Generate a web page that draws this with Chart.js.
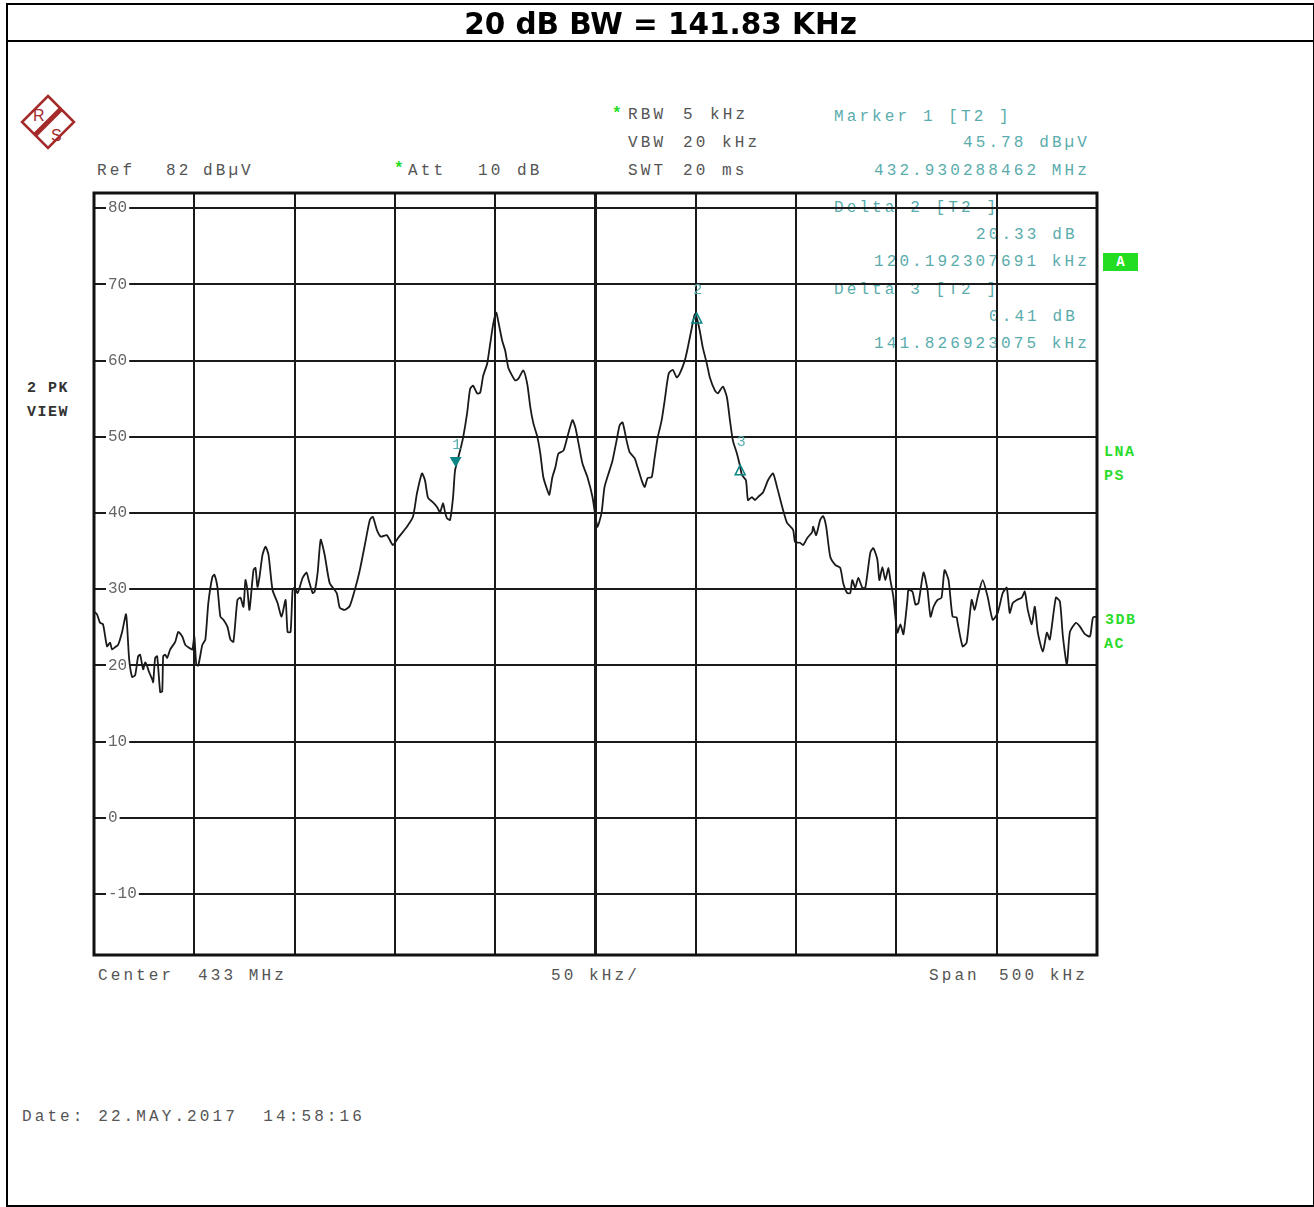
<!DOCTYPE html>
<html>
<head>
<meta charset="utf-8">
<script src="https://cdn.jsdelivr.net/npm/chart.js@4.4.0/dist/chart.umd.min.js"></script>
<style>
  body { margin: 0; background: #fff; width: 1314px; height: 1207px; position: relative; overflow: hidden; }
  #chart { position: absolute; left: 0; top: 0; z-index: 2; }
  .frame { position: absolute; left: 6px; top: 3px; width: 1305px; height: 1200px; border: 2px solid #000; z-index: 3; pointer-events: none; }
  .title { position: absolute; left: 6px; top: 3px; width: 1309px; height: 37px; border-bottom: 2px solid #000; z-index: 3;
           text-align: center; font: bold 29.5px "DejaVu Sans", Verdana, sans-serif; line-height: 43px; color: #000; }
  .t { position: absolute; z-index: 1; font-family: "Liberation Mono", monospace; font-size: 16px; letter-spacing: 3.1px;
       line-height: 16px; color: #555; white-space: pre; }
  .mk { color: #5aacac; }
  .star { color: #22dd22; font-weight: bold; }
  .g { position: absolute; z-index: 1; font: bold 15px "Liberation Mono", monospace; letter-spacing: 1.5px; color: #2bdc2b; line-height: 16px; }
  .b { position: absolute; z-index: 1; font: bold 15px "Liberation Mono", monospace; letter-spacing: 1.5px; color: #333; line-height: 16px; }
  .abox { position: absolute; left: 1103px; top: 253px; width: 35px; height: 18px; background: #22dd22; color: #fff; z-index: 1;
          font: bold 14px "Liberation Mono", monospace; text-align: center; line-height: 18px; }
  .logo { position: absolute; left: 20px; top: 94px; z-index: 1; }
</style>
</head>
<body>
<div class="title">20 dB BW = 141.83 KHz</div>
<div class="frame"></div>

<svg class="logo" width="56" height="56" viewBox="0 0 56 56">
  <polygon points="28,2 54,28 28,54 2,28" fill="none" stroke="#a52a2a" stroke-width="2.5"/>
  <line x1="41" y1="15" x2="15" y2="41" stroke="#a52a2a" stroke-width="5"/>
  <text x="13" y="27" font-family="Liberation Sans, Arial" font-size="16" fill="#a52a2a">R</text>
  <text x="31" y="47" font-family="Liberation Sans, Arial" font-size="16" fill="#a52a2a">S</text>
</svg>

<div class="t" style="left:97px;top:163px">Ref</div>
<div class="t" style="left:166px;top:163px">82</div>
<div class="t" style="left:203px;top:163px">dBµV</div>
<div class="t star" style="left:394px;top:161px">*</div>
<div class="t" style="left:408px;top:163px">Att</div>
<div class="t" style="left:478px;top:163px">10</div>
<div class="t" style="left:517px;top:163px">dB</div>

<div class="t star" style="left:612px;top:106px">*</div>
<div class="t" style="left:628px;top:107px">RBW</div>
<div class="t" style="left:683px;top:107px">5</div>
<div class="t" style="left:710px;top:107px">kHz</div>
<div class="t" style="left:628px;top:135px">VBW</div>
<div class="t" style="left:683px;top:135px">20</div>
<div class="t" style="left:722px;top:135px">kHz</div>
<div class="t" style="left:628px;top:163px">SWT</div>
<div class="t" style="left:683px;top:163px">20</div>
<div class="t" style="left:722px;top:163px">ms</div>

<div class="t mk" style="left:834px;top:109px">Marker 1 [T2 ]</div>
<div class="t mk" style="left:963px;top:135px">45.78 dBµV</div>
<div class="t mk" style="left:874px;top:163px">432.930288462 MHz</div>
<div class="t mk" style="left:834px;top:200px">Delta 2 [T2 ]</div>
<div class="t mk" style="left:976px;top:227px">20.33 dB</div>
<div class="t mk" style="left:874px;top:254px">120.192307691 kHz</div>
<div class="t mk" style="left:834px;top:282px">Delta 3 [T2 ]</div>
<div class="t mk" style="left:989px;top:309px">0.41 dB</div>
<div class="t mk" style="left:874px;top:336px">141.826923075 kHz</div>

<div class="abox">A</div>
<div class="g" style="left:1104px;top:445px">LNA</div>
<div class="g" style="left:1104px;top:469px">PS</div>
<div class="g" style="left:1105px;top:613px">3DB</div>
<div class="g" style="left:1104px;top:637px">AC</div>

<div class="b" style="left:27px;top:381px">2 PK</div>
<div class="b" style="left:27px;top:405px">VIEW</div>

<div class="t" style="left:98px;top:968px">Center</div>
<div class="t" style="left:198px;top:968px">433 MHz</div>
<div class="t" style="left:551px;top:968px">50 kHz/</div>
<div class="t" style="left:929px;top:968px">Span</div>
<div class="t" style="left:999px;top:968px">500 kHz</div>

<div class="t" style="left:22px;top:1109px">Date: 22.MAY.2017  14:58:16</div>

<canvas id="chart" width="1314" height="1207"></canvas>

<script>
// trace 2, frequency offset from 433 MHz centre (kHz) and level (dBµV)
const freqOffsetKHz = [
    -250, -248.5, -247, -245.5, -243.5, -242, -241, -239.5, -238, -236,
    -234, -232.5, -231, -229.5, -228, -227, -225.5, -224.5, -223.5, -222.5,
    -221, -220.5, -219.5, -218.5, -217, -216, -215.5, -214.5, -213.5, -212,
    -209.5, -208, -206, -204.5, -203, -201, -200, -199, -198, -196,
    -194.5, -193, -191, -190, -188.5, -187, -185.5, -183.5, -182, -180.5,
    -178.5, -177, -175.5, -174.5, -173.5, -172.5, -170.5, -169.5, -168.5, -167.5,
    -166, -164.5, -163, -161, -158.5, -156.5, -154.5, -153.5, -152, -151,
    -150, -148.5, -146, -144, -143, -141, -140, -138.5, -137, -135,
    -132.5, -129, -127.5, -125, -122.5, -120, -117.5, -115, -112.5, -111,
    -109, -107, -104, -101, -98.5, -94, -91, -89, -86.5, -85,
    -83.5, -81, -79, -77.5, -76, -75, -74, -72.5, -71, -70,
    -67.5, -66, -64, -62.5, -61, -59, -57.5, -56, -54, -52.5,
    -51, -49.5, -48.5, -46.5, -45, -43.5, -41.5, -40, -38.5, -36,
    -34, -32.5, -31, -29, -27.5, -26, -24, -23, -21.5, -20,
    -18.5, -16, -14, -11.5, -10, -8.5, -6.5, -4, -1.5, 0,
    1, 3, 4.5, 7, 8.5, 10.5, 12, 13.5, 15.5, 17,
    19.5, 21, 23, 24.5, 26, 28, 29.5, 31, 33, 34.5,
    36.5, 38.5, 40.5, 42, 44.5, 46, 48, 49.5, 50.5, 52,
    53.5, 55.5, 57, 59.5, 61, 63.5, 65.5, 67, 68.5, 70.5,
    72, 73, 75, 76, 78, 79.5, 81, 83.5, 86, 88.5,
    90.5, 93.5, 95.5, 98.5, 99.5, 102, 103.5, 105.5, 108, 108.5,
    110, 112, 113.5, 115, 117, 119.5, 122, 123.5, 125.5, 127,
    128, 129.5, 131, 133, 134.5, 137, 138.5, 140.5, 141.5, 143,
    144.5, 146, 147, 148.5, 149.5, 150.5, 152, 153.5, 155.5, 156,
    158, 159.5, 161, 163.5, 165.5, 167, 168.5, 170.5, 172.5, 174,
    176, 178, 180, 180.5, 183, 185, 187.5, 189, 190.5, 193,
    195.5, 198, 200.5, 203, 205, 206.5, 208, 210, 212.5, 214,
    215.5, 217.5, 219, 220.5, 223, 225, 226.5, 229.5, 231.5, 233,
    235, 236.5, 239.5, 241.5, 244, 246.5, 248, 250
];
const levelDbuv = [
    27.1, 26.7, 25.6, 25.4, 22.5, 23.0, 22.1, 22.4, 22.7, 24.4,
    26.7, 20.9, 18.5, 18.7, 21.2, 21.4, 19.5, 20.4, 19.9, 19.1,
    18.2, 17.8, 21.0, 21.2, 16.5, 16.6, 21.2, 21.4, 21.0, 22.1,
    23.1, 24.4, 23.8, 22.7, 22.4, 22.1, 23.8, 20.1, 20.0, 22.7,
    23.4, 28.2, 31.6, 31.9, 30.3, 26.4, 26.0, 25.1, 23.4, 23.1,
    28.6, 28.9, 27.7, 31.2, 29.9, 27.3, 32.5, 32.8, 30.3, 31.6,
    34.5, 35.6, 34.5, 29.9, 28.2, 26.4, 28.6, 24.4, 24.4, 29.9,
    30.2, 29.5, 31.5, 32.2, 31.2, 29.5, 29.7, 32.2, 36.5, 34.5,
    30.8, 29.5, 27.6, 27.3, 27.8, 29.9, 32.5, 35.8, 39.1, 39.5,
    37.8, 36.9, 37.1, 35.8, 36.7, 38.2, 39.5, 42.6, 45.2, 44.3,
    42.0, 41.4, 40.8, 40.1, 41.3, 40.1, 39.3, 39.1, 42.1, 45.6,
    48.2, 49.9, 53.1, 56.3, 56.7, 55.7, 55.8, 58.0, 59.6, 62.2,
    64.8, 66.3, 65.2, 62.6, 61.3, 59.1, 58.0, 57.4, 57.6, 58.7,
    56.9, 53.9, 51.8, 50.0, 47.8, 44.7, 43.0, 42.4, 44.7, 46.0,
    47.8, 48.2, 50.0, 52.2, 51.2, 49.2, 46.5, 44.7, 42.1, 39.5,
    38.2, 40.0, 43.4, 45.6, 46.9, 49.5, 51.5, 51.9, 49.5, 48.0,
    47.2, 46.0, 44.3, 43.4, 44.6, 44.7, 47.3, 49.9, 52.2, 54.8,
    58.3, 58.8, 57.8, 58.3, 60.0, 61.7, 64.3, 66.1, 65.6, 63.9,
    61.7, 59.6, 57.8, 56.1, 55.7, 56.6, 55.2, 52.2, 49.5, 47.8,
    46.2, 45.0, 44.3, 41.7, 42.1, 41.7, 42.1, 42.7, 44.3, 45.2,
    43.4, 40.4, 38.7, 37.8, 36.2, 36.1, 35.8, 36.7, 37.5, 38.2,
    37.1, 39.1, 39.6, 38.2, 34.3, 33.2, 32.8, 30.8, 29.5, 29.5,
    31.2, 30.2, 31.5, 30.2, 30.2, 34.8, 35.4, 33.9, 31.2, 32.9,
    31.2, 32.8, 31.2, 29.0, 26.4, 24.3, 25.4, 24.1, 28.6, 29.9,
    29.7, 28.0, 28.2, 32.2, 29.9, 26.4, 27.7, 28.6, 28.9, 32.5,
    31.2, 26.4, 26.3, 25.6, 22.5, 23.0, 28.6, 27.3, 29.0, 31.2,
    29.0, 26.0, 26.9, 29.5, 30.2, 26.9, 28.2, 28.6, 28.9, 29.7,
    27.3, 25.4, 27.7, 24.3, 21.8, 24.3, 23.4, 28.9, 28.4, 23.8,
    20.1, 24.4, 25.6, 25.1, 24.1, 23.8, 26.3, 26.4
];

// level axis: ref level 82 dBµV, 10 dB/div
const yTicks = [-10, 0, 10, 20, 30, 40, 50, 60, 70, 80];

// markers: 1 = normal marker, 2 and 3 = delta markers
const markerNames = ['1', '2', '3'];
const markerFreqKHz = [-69.71, 50.48, 72.12];
const markerLevel = [45.78, 66.11, 46.19];

const frame = {
    id: 'frame',
    beforeDatasetsDraw(chart) {
        const { ctx, chartArea: a } = chart;
        ctx.save();
        ctx.strokeStyle = '#111';
        ctx.lineWidth = 3;
        ctx.strokeRect(a.left, a.top, a.right - a.left, a.bottom - a.top);
        ctx.restore();
    }
};

const markers = {
    id: 'markers',
    afterDatasetsDraw(chart) {
        const { ctx, scales: { x, y } } = chart;
        ctx.save();
        ctx.font = '15px "Liberation Mono", monospace';
        ctx.textAlign = 'center';
        ctx.textBaseline = 'middle';
        markerFreqKHz.forEach((f, i) => {
            const px = x.getPixelForValue(f);
            const py = y.getPixelForValue(markerLevel[i]);
            ctx.fillStyle = '#0b8585';
            ctx.strokeStyle = '#0b8585';
            ctx.lineWidth = 1.5;
            ctx.beginPath();
            if (i === 0) {
                // filled triangle pointing down onto the trace
                ctx.moveTo(px - 6, py - 12);
                ctx.lineTo(px + 6, py - 12);
                ctx.lineTo(px, py - 2);
                ctx.closePath();
                ctx.fill();
            } else {
                // open delta
                ctx.moveTo(px, py - 1);
                ctx.lineTo(px + 5, py + 9);
                ctx.lineTo(px - 5, py + 9);
                ctx.closePath();
                ctx.stroke();
            }
            ctx.fillStyle = '#5aacac';
            ctx.fillText(markerNames[i], px + 1, py - 24);
        });
        ctx.restore();
    }
};

new Chart(document.getElementById('chart'), {
    type: 'line',
    data: {
        datasets: [{
            data: freqOffsetKHz.map((f, i) => ({ x: f, y: levelDbuv[i] })),
            borderColor: '#1a1a1a',
            borderWidth: 1.8,
            pointRadius: 0,
            tension: 0.2,
            fill: false
        }]
    },
    options: {
        responsive: false,
        animation: false,
        devicePixelRatio: 1,
        layout: { padding: { left: 66, top: 193, right: 217, bottom: 252 } },
        plugins: { legend: { display: false }, tooltip: { enabled: false } },
        scales: {
            x: {
                type: 'linear',
                min: -250,
                max: 250,
                ticks: { display: false, stepSize: 50 },
                grid: { color: '#1a1a1a', lineWidth: c => (c.tick && c.tick.value === 0 ? 3 : 2), drawTicks: false },
                border: { display: false }
            },
            y: {
                min: -18,
                max: 82,
                afterBuildTicks: axis => { axis.ticks = yTicks.map(v => ({ value: v })); },
                ticks: {
                    mirror: true,
                    padding: 14,
                    color: '#666',
                    font: { family: '"Liberation Mono", monospace', size: 16 },
                    showLabelBackdrop: true,
                    backdropColor: '#fff',
                    backdropPadding: { x: 2, y: 0 }
                },
                grid: { color: '#1a1a1a', lineWidth: 2, drawTicks: false },
                border: { display: false }
            }
        }
    },
    plugins: [frame, markers]
});
</script>
</body>
</html>
